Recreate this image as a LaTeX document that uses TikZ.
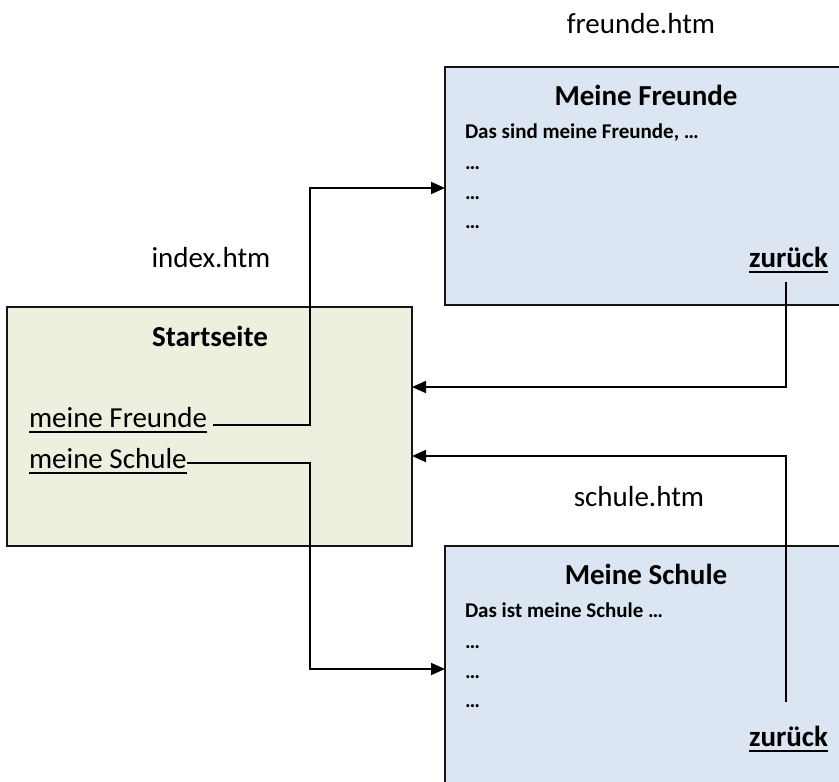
\documentclass[tikz,border=0pt]{standalone}
\usepackage{fontspec}
\setmainfont{Carlito}
\usetikzlibrary{arrows.meta}
\definecolor{startgreen}{RGB}{235,241,222}
\definecolor{pageblue}{RGB}{220,230,242}
\definecolor{edge}{RGB}{20,20,20}
\newcommand\myul[1]{\setbox0\hbox{#1}\rlap{\rule[-6bp]{\wd0}{1.8bp}}\box0}
\tikzset{
  pagebox/.style={draw=edge, line width=1.6bp, inner sep=0pt, outer sep=0pt, rectangle},
  bigtxt/.style={inner sep=0pt, outer sep=0pt, font=\fontsize{29bp}{35bp}\selectfont},
  bigbold/.style={bigtxt, font=\fontsize{29bp}{35bp}\selectfont\bfseries},
  smallbold/.style={inner sep=0pt, outer sep=0pt, font=\fontsize{21bp}{25bp}\selectfont\bfseries},
  conn/.style={draw=black, line width=1.8bp},
  arr/.style={conn, -{Triangle[length=14bp,width=12bp]}}
}
\begin{document}
\begin{tikzpicture}[x=1bp,y=-1bp]
\useasboundingbox (0,0) rectangle (839,782);
\clip (0,0) rectangle (839,782);
% boxes
\node[pagebox, fill=startgreen, minimum width=405bp, minimum height=239bp] (start) at (209.5,426.5) {};
\node[pagebox, fill=pageblue, minimum width=420bp, minimum height=238bp] (fr) at (655,186) {};
\node[pagebox, fill=pageblue, minimum width=420bp, minimum height=280bp] (sc) at (655,686) {};
% file labels
\node[bigtxt, anchor=base] (lfr) at (641,34) {freunde.htm};
\node[bigtxt, anchor=base] (lidx) at (211,267) {index.htm};
\node[bigtxt, anchor=base] (lsc) at (639,506) {schule.htm};
% start page
\node[bigbold, anchor=base] (st) at (210,346) {Startseite};
\node[bigtxt, anchor=base west] (mfr) at (29,427) {\myul{meine Freunde}};
\node[bigtxt, anchor=base west] (msc) at (29,468) {\myul{meine Schule}};
% freunde page
\node[bigbold, anchor=base] (tfr) at (646,105) {Meine Freunde};
\node[smallbold, anchor=base west] (dfr) at (465,138) {Das sind meine Freunde, …};
\node[smallbold, anchor=base west] (dfr1) at (465,169) {…};
\node[smallbold, anchor=base west] (dfr2) at (465,199) {…};
\node[smallbold, anchor=base west] (dfr3) at (465,228) {…};
\node[bigbold, anchor=base east] (zfr) at (828,267) {\myul{zurück}};
% schule page
\node[bigbold, anchor=base] (tsc) at (646,584) {Meine Schule};
\node[smallbold, anchor=base west] (dsc) at (465,617) {Das ist meine Schule …};
\node[smallbold, anchor=base west] (dsc1) at (465,648) {…};
\node[smallbold, anchor=base west] (dsc2) at (465,678) {…};
\node[smallbold, anchor=base west] (dsc3) at (465,707) {…};
\node[bigbold, anchor=base east] (zsc) at (828,746) {\myul{zurück}};
% bend points
\coordinate (f1) at (310,188);
\coordinate (s1) at (310,669);
\coordinate (b1) at (786,282);
\coordinate (b1y) at (786,387);
\coordinate (b2) at (786,702);
\coordinate (b2y) at (786,456);
% connectors
\draw[arr] ([xshift=6bp,yshift=2bp]mfr.base east) -| (f1) -- (f1 -| fr.west);
\draw[arr] ([yshift=5bp]msc.base east) -| (s1) -- (s1 -| sc.west);
\draw[arr] (b1) -- (b1y) -- (b1y -| start.east);
\draw[arr] (b2) -- (b2y) -- (b2y -| start.east);
\end{tikzpicture}
\end{document}
